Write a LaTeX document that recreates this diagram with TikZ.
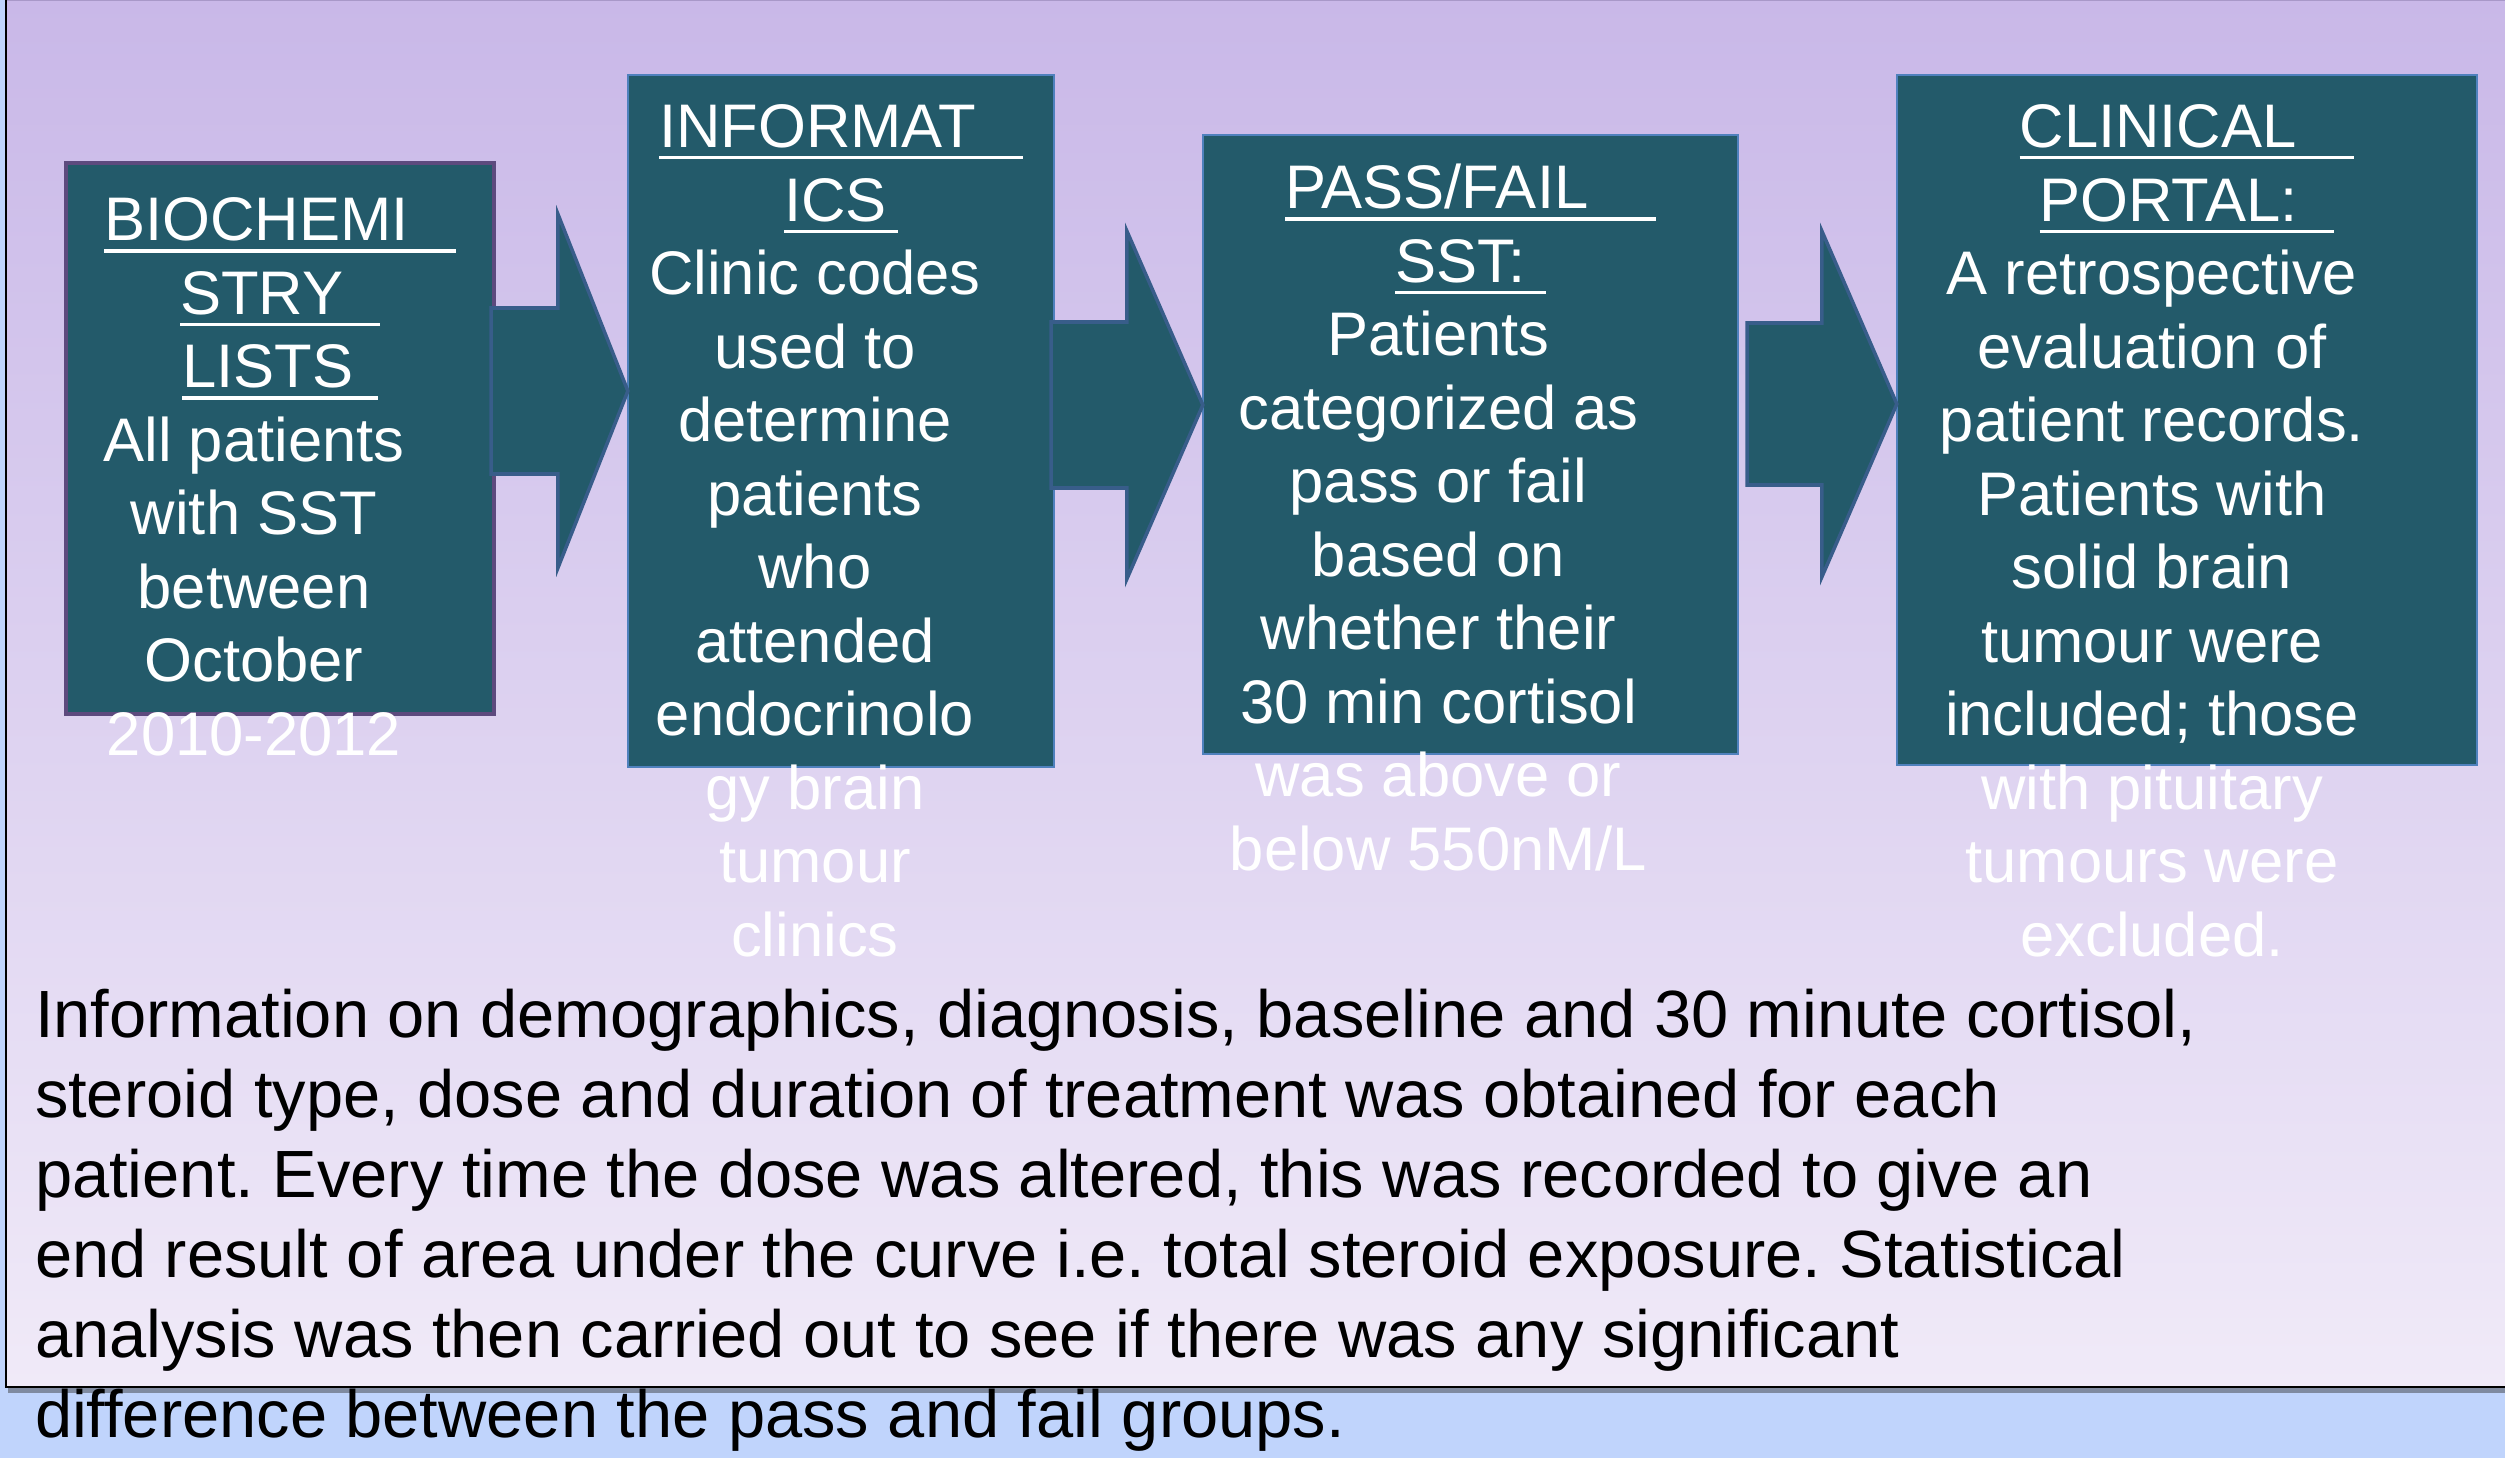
\documentclass[tikz,border=0pt]{standalone}
\usepackage{fontspec}
\setmainfont{Liberation Sans}
\definecolor{boxfill}{HTML}{235A6A}
\definecolor{boxedge}{HTML}{4F81BD}
\definecolor{firstedge}{HTML}{5D4A7E}
\definecolor{arrowedge}{HTML}{385D8A}
\definecolor{bgtop}{HTML}{C9B8E8}
\definecolor{bgbottom}{HTML}{F0EAF8}
\definecolor{stripc}{HTML}{C0D4FC}
\definecolor{topline}{HTML}{A898C8}
\definecolor{shadowc}{HTML}{7F8AA0}
\usetikzlibrary{calc}
\frenchspacing
\newcommand\titleul[2]{\setbox0\hbox{#1\hspace{#2}}\rlap{\rule[-0.19em]{\wd0}{0.055em}}\box0}
\newcommand\blockarrow[7]{%
  \draw[flowarrow] ($(#1.east |- #3)+(#4,-#5)$) -- ($(#2.west |- #3)+(-#7,-#5)$)
    -- ($(#2.west |- #3)+(-#7,-#6)$) -- (#2.west |- #3) -- ($(#2.west |- #3)+(-#7,#6)$)
    -- ($(#2.west |- #3)+(-#7,#5)$) -- ($(#1.east |- #3)+(#4,#5)$) -- cycle;}
\begin{document}
\begin{tikzpicture}[x=0.01cm,y=-0.01cm,every node/.style={inner sep=0pt,outer sep=0pt}]
\tikzstyle{stage}=[draw=boxedge,line width=0.57pt,fill=boxfill]
\tikzstyle{title}=[text=white,font=\fontsize{17.5}{20.9}\selectfont,anchor=base]
\tikzstyle{body}=[title]
\tikzstyle{flowarrow}=[draw=arrowedge,line width=1pt,fill=boxfill,line join=miter]
\tikzstyle{notes}=[font=\fontsize{19}{22.76}\selectfont,anchor=base west]
\useasboundingbox (0,0) rectangle (2505,1458);
\fill[stripc] (0,0) rectangle (2505,1458);
\fill[shadowc] (8,1388) rectangle (2505,1393);
\fill[top color=bgtop,bottom color=bgbottom] (6,0) rectangle (2505,1387);
\draw[topline,line width=0.5pt] (6,0.5) -- (2505,0.5);
\draw[black,line width=0.6pt] (6,0) -- (6,1387) -- (2505,1387);
\node[stage,draw=firstedge,line width=1.1pt,minimum width=4.28cm,minimum height=5.51cm] (bio) at (280,438.5) {};
\node[stage,minimum width=4.26cm,minimum height=6.92cm] (info) at (841,421) {};
\node[stage,minimum width=5.35cm,minimum height=6.19cm] (sst) at (1470.5,444.5) {};
\node[stage,minimum width=5.80cm,minimum height=6.90cm] (portal) at (2187,420) {};
\coordinate (ar1) at (0,391);
\coordinate (ar2) at (0,405);
\coordinate (ar3) at (0,404);
\blockarrow{bio}{info}{ar1}{-3}{83}{177}{70}
\blockarrow{info}{sst}{ar2}{-3}{83}{174}{76}
\blockarrow{sst}{portal}{ar3}{9}{81}{173}{75}
\node[title] (bioT) at ($(bio.north)+(0,78)$) {\begin{tabular}[t]{@{}c@{}}\titleul{BIOCHEMI}{0.76em}\\ \titleul{STRY}{0.6em}\\ \titleul{LISTS}{0.39em}\end{tabular}};
\node[body] (bioB) at ($(bioT.base)+(-26,220.5)$) {\begin{tabular}[t]{@{}c@{}}All patients\\ with SST\\ between\\ October\\ 2010-2012\end{tabular}};
\node[title] (infoT) at ($(info.north)+(0,73)$) {\begin{tabular}[t]{@{}c@{}}\titleul{INFORMAT}{0.76em}\\ \titleul{ICS}{0.18em}\end{tabular}};
\node[body] (infoB) at ($(infoT.base)+(-26,147)$) {\begin{tabular}[t]{@{}c@{}}Clinic codes\\ used to\\ determine\\ patients\\ who\\ attended\\ endocrinolo\\ gy brain\\ tumour\\ clinics\end{tabular}};
\node[title] (sstT) at ($(sst.north)+(0,74)$) {\begin{tabular}[t]{@{}c@{}}\titleul{PASS/FAIL}{1.1em}\\ \titleul{SST:}{0.33em}\end{tabular}};
\node[body] (sstB) at ($(sstT.base)+(-32,147)$) {\begin{tabular}[t]{@{}c@{}}Patients\\ categorized as\\ pass or fail\\ based on\\ whether their\\ 30 min cortisol\\ was above or\\ below 550nM/L\end{tabular}};
\node[title] (portalT) at ($(portal.north)+(0,73)$) {\begin{tabular}[t]{@{}c@{}}\titleul{CLINICAL}{0.94em}\\ \titleul{PORTAL:}{0.6em}\end{tabular}};
\node[body] (portalB) at ($(portalT.base)+(-35,147)$) {\begin{tabular}[t]{@{}c@{}}A retrospective\\ evaluation of\\ patient records.\\ Patients with\\ solid brain\\ tumour were\\ included; those\\ with pituitary\\ tumours were\\ excluded.\end{tabular}};
\node[notes] (method) at (35,1037) {\begin{tabular}[t]{@{}l@{}}Information on demographics, diagnosis, baseline and 30 minute cortisol,\\ steroid type, dose and duration of treatment was obtained for each\\ patient. Every time the dose was altered, this was recorded to give an\\ end result of area under the curve i.e. total steroid exposure. Statistical\\ analysis was then carried out to see if there was any significant\\ difference between the pass and fail groups.\end{tabular}};
\end{tikzpicture}
\end{document}
